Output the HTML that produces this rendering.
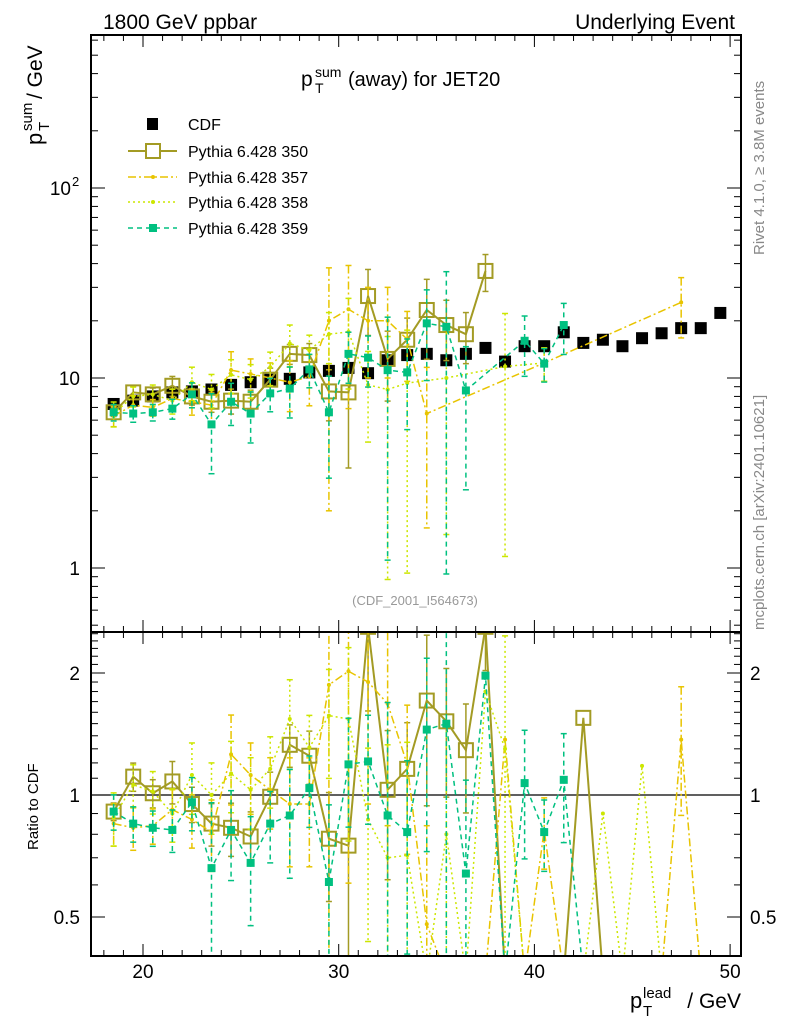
<!DOCTYPE html>
<html><head><meta charset="utf-8"><style>
body{margin:0;background:#fff;overflow:hidden;}
svg text{font-family:"Liberation Sans",Arial,sans-serif;}
</style></head><body>
<svg id="c" width="786" height="1024" xmlns="http://www.w3.org/2000/svg" style="display:block">
<defs>
<clipPath id="cm"><rect x="91" y="35" width="650" height="597"/></clipPath>
<clipPath id="cr"><rect x="91" y="632" width="650" height="324"/></clipPath>
</defs>
<rect x="0" y="0" width="786" height="1024" fill="#fff"/>
<text x="103" y="29" font-size="21">1800 GeV ppbar</text>
<text x="735" y="29" font-size="21" text-anchor="end">Underlying Event</text>
<g>
<text x="301" y="86" font-size="21">p</text>
<text x="315" y="77" font-size="14">sum</text>
<text x="315" y="93" font-size="14">T</text>
<text x="348" y="86" font-size="20">(away) for JET20</text>
</g>
<g transform="translate(42,145) rotate(-90)">
<text x="0" y="0" font-size="22">p</text>
<text x="14" y="-10" font-size="15">sum</text>
<text x="14" y="7" font-size="15">T</text>
<text x="46" y="0" font-size="21">/ GeV</text>
</g>
<text transform="translate(38,850) rotate(-90)" font-size="15">Ratio to CDF</text>
<text transform="translate(764,255) rotate(-90)" font-size="15" fill="#888">Rivet 4.1.0, ≥ 3.8M events</text>
<text transform="translate(764,630) rotate(-90)" font-size="15" fill="#888">mcplots.cern.ch [arXiv:2401.10621]</text>
<text x="415" y="605" font-size="13" fill="#999" text-anchor="middle">(CDF_2001_I564673)</text>
<g>
<text x="630" y="1008" font-size="22">p</text>
<text x="643" y="1016" font-size="15">T</text>
<text x="643" y="998" font-size="15">lead</text>
<text x="741" y="1008" font-size="21" text-anchor="end">/ GeV</text>
</g>
<g id="main" clip-path="url(#cm)"></g>
<g id="ratio" clip-path="url(#cr)"></g>
<g id="axes"></g>
<g id="legend"></g>
</svg>
<script>
const xs = [18.5,19.5,20.5,21.5,22.5,23.5,24.5,25.5,26.5,27.5,28.5,29.5,30.5,31.5,32.5,33.5,34.5,35.5,36.5,37.5,38.5,39.5,40.5,41.5,42.5,43.5,44.5,45.5,46.5,47.5,48.5,49.5];
const cdf = [7.3,7.6,8.0,8.4,8.5,8.7,9.2,9.5,9.8,9.9,10.7,10.9,11.3,10.6,12.4,13.2,13.4,12.4,13.4,14.4,12.2,14.7,14.7,17.4,15.3,15.9,14.7,16.2,17.2,18.3,18.3,22];
const p350 = [6.6,8.4,8.2,9.1,8.0,7.5,7.6,7.5,9.8,13.4,13.2,8.5,8.4,27,12.6,15.9,22.8,19,17,36.6,null,null,null,null,null,null,null,null,null,null,null,null];
const e350 = [0.05,0.08,0.08,0.12,0.1,0.12,0.15,0.15,0.15,0.12,0.15,0.3,0.6,0.38,0.4,0.3,0.45,0.35,0.3,0.22,0,0,0,0,0,0,0,0,0,0,0,0];
const p357 = [6.3,7.2,7.0,7.8,7.5,7.2,11.0,10.5,10.0,9.5,10.2,20,23,20,20,16,6.5,null,null,null,null,null,12,null,null,null,null,null,null,25,null,null];
const e357 = [0.12,0.12,0.1,0.12,0.15,0.2,0.25,0.2,0.2,0.3,0.3,0.9,0.7,0.5,0.5,0.4,0.75,0,0,0,0,0,0.2,0,0,0,0,0,0,0.35,0,0];
const p358 = [6.5,8.0,8.2,7.6,9.5,8.7,10.4,9.8,11.4,15.2,14.0,17.0,17.5,9.2,8.7,9.4,null,10,null,null,11.5,null,12,null,null,null,null,null,null,null,null,null];
const e358 = [0.15,0.12,0.12,0.15,0.2,0.2,0.2,0.2,0.2,0.25,0.2,0.3,0.5,0.5,0.9,0.9,0,0.85,0,0,0.9,0,0.2,0,0,0,0,0,0,0,0,0];
const p359 = [6.6,6.5,6.6,6.9,8.2,5.7,7.5,6.5,8.3,8.8,11.1,6.6,13.4,12.8,11.0,10.7,19.4,18.6,8.6,null,null,15.7,11.9,19.0,null,null,null,null,null,null,null,null];
const e359 = [0.1,0.1,0.1,0.12,0.15,0.45,0.25,0.3,0.2,0.3,0.2,0.55,0.3,0.3,0.9,0.5,0.5,0.95,0.7,0,0,0.35,0.2,0.3,0,0,0,0,0,0,0,0];
const r350 = [0.91,1.11,1.01,1.08,0.95,0.85,0.83,0.79,0.99,1.33,1.25,0.78,0.75,2.6,1.03,1.16,1.71,1.52,1.29,2.6,0,0,0,0,1.55,0,null,null,null,null,null,null];
const r357 = [0.85,0.83,0.84,0.92,0.87,0.81,1.26,1.12,1.03,0.95,0.95,1.87,2.02,1.9,1.68,1.19,0.48,0,0,0,1.37,0,0.82,0,0,0,0,0,0,1.37,0,0];
const r358 = [0.88,1.06,1.02,0.9,1.12,1.0,1.13,1.03,1.16,1.54,1.31,1.57,1.54,0.87,0.7,0.71,0,0.8,0,1.8,1.3,0,0,0,0,0.9,0,1.18,0,0,0,0];
const r359 = [0.91,0.85,0.83,0.82,0.96,0.66,0.82,0.68,0.85,0.89,1.04,0.61,1.19,1.21,0.89,0.81,1.45,1.5,0.64,1.97,0,1.07,0.81,1.09,0,null,null,null,null,null,null,null];
const xTicks = [20,30,40,50];
const mainTicks = [{v:100,l:"10",s:"2"},{v:10,l:"10",s:""},{v:1,l:"1",s:""}];
const ratioTicks = [2,1,0.5];

const NS="http://www.w3.org/2000/svg";
const L=91,R=741,T=35,MB=632,RB=956;
const X=v=>143+(v-20)*19.57;
const YM=v=>568-190*Math.log10(v);
const YR=v=>v<=0?975:795-122*Math.log2(v);
function mk(tag,attrs,parent){const e=document.createElementNS(NS,tag);for(const k in attrs)e.setAttribute(k,attrs[k]);parent.appendChild(e);return e;}
const gm=document.getElementById('main'),gr=document.getElementById('ratio'),ga=document.getElementById('axes'),gl=document.getElementById('legend');

const series=[
 {name:'pythia-350',vals:p350,err:e350,rat:r350,col:'#a39b24',dash:'',w:2,mk:'open',ms:14},
 {name:'pythia-357',vals:p357,err:e357,rat:r357,col:'#e8c400',dash:'8,3,2,3',w:1.5,mk:'dot',ms:4},
 {name:'pythia-358',vals:p358,err:e358,rat:r358,col:'#cce600',dash:'2,3',w:1.5,mk:'dot',ms:4},
 {name:'pythia-359',vals:p359,err:e359,rat:r359,col:'#00c080',dash:'5,4',w:1.5,mk:'fill',ms:8}
];
function drawSeries(g,s,vals,Y,ratio){
 let pts=[];
 vals.forEach((v,i)=>{ if(v!==null) pts.push([X(xs[i]),Y(v)]); });
 const pl=mk('polyline',{points:pts.map(p=>p.join(',')).join(' '),fill:'none',stroke:s.col,'stroke-width':s.w,'stroke-dasharray':s.dash},g);
 
 
 vals.forEach((v,i)=>{
  if(v===null||v<=0)return;
  const x=X(xs[i]),y=Y(v);
  const ef=s.err[i];
  if(ef>0){
   const hi=Math.max(Y(v*(1+ef)),20), lo=Math.min(Y(Math.max(v*(1-ef),0.01)),975);
   const eb=mk('line',{x1:x,x2:x,y1:hi,y2:lo,stroke:s.col,'stroke-width':1.5,'stroke-dasharray':s.dash},g);
   
   
   mk('line',{x1:x-3,x2:x+3,y1:hi,y2:hi,stroke:s.col,'stroke-width':1.5},g);
   mk('line',{x1:x-3,x2:x+3,y1:lo,y2:lo,stroke:s.col,'stroke-width':1.5},g);
  }
  let m;
  if(s.mk==='open') m=mk('rect',{x:x-s.ms/2,y:y-s.ms/2,width:s.ms,height:s.ms,fill:'none',stroke:s.col,'stroke-width':2},g);
  else if(s.mk==='fill') m=mk('rect',{x:x-s.ms/2,y:y-s.ms/2,width:s.ms,height:s.ms,fill:s.col},g);
  else m=mk('circle',{cx:x,cy:y,r:2,fill:s.col},g);
  
  
 });
}
cdf.forEach((v,i)=>{
 const r=mk('rect',{x:X(xs[i])-6,y:YM(v)-6,width:12,height:12,fill:'#000'},gm);
 
 
});
series.forEach(s=>drawSeries(gm,s,s.vals,YM,false));
const one=mk('line',{x1:L,x2:R,y1:YR(1),y2:YR(1),stroke:'#000','stroke-width':1.2},gr);


series.forEach(s=>drawSeries(gr,s,s.rat,YR,true));

const f1=mk('rect',{x:L,y:T,width:R-L,height:MB-T,fill:'none',stroke:'#000','stroke-width':2},ga);


const f2=mk('rect',{x:L,y:MB,width:R-L,height:RB-MB,fill:'none',stroke:'#000','stroke-width':2},ga);


for(let v=18;v<=50;v++){
 const x=X(v),maj=v%10===0,len=maj?12:6;
 [[MB,MB-len],[RB,RB-len],[T,T+len],[MB,MB+len]].forEach(p=>mk('line',{x1:x,x2:x,y1:p[0],y2:p[1],stroke:'#000','stroke-width':1},ga));
}
xTicks.forEach(v=>{
 const t=mk('text',{x:X(v),y:978,'font-size':19,'text-anchor':'middle'},ga);t.textContent=v;
 
 
});
for(let d=0.1;d<1000;d*=10){for(let k=1;k<10;k++){const v=d*k,y=YM(v);if(y<T||y>MB)continue;const len=k===1?14:7;
 mk('line',{x1:L,x2:L+len,y1:y,y2:y,stroke:'#000'},ga);mk('line',{x1:R,x2:R-len,y1:y,y2:y,stroke:'#000'},ga);}}
mainTicks.forEach(tk=>{
 const t=mk('text',{x:tk.s?71:80,y:YM(tk.v)+7,'font-size':19,'text-anchor':'end'},ga);t.textContent=tk.l;
 
 
 if(tk.s){const s=mk('text',{x:72,y:YM(tk.v)-2,'font-size':13},ga);s.textContent=tk.s;
  
  }
});
for(let v=0.4;v<=2.55;v+=0.1){const y=YR(v);if(y<MB||y>RB)continue;const maj=Math.abs(v-1)<1e-6||Math.abs(v-2)<1e-6||Math.abs(v-0.5)<1e-6;const len=maj?14:7;
 mk('line',{x1:L,x2:L+len,y1:y,y2:y,stroke:'#000'},ga);mk('line',{x1:R,x2:R-len,y1:y,y2:y,stroke:'#000'},ga);}
ratioTicks.forEach(v=>{
 const t=mk('text',{x:80,y:YR(v)+7,'font-size':19,'text-anchor':'end'},ga);t.textContent=v;
 
 
 const t2=mk('text',{x:750,y:YR(v)+7,'font-size':19},ga);t2.textContent=v;
 
 
});
const legs=[{lab:'CDF',y:124},{lab:'Pythia 6.428 350',y:151,s:0},{lab:'Pythia 6.428 357',y:177,s:1},{lab:'Pythia 6.428 358',y:202,s:2},{lab:'Pythia 6.428 359',y:228,s:3}];
legs.forEach(e=>{
 const g=mk('g',{},gl);
 
 
 if(e.s===undefined){mk('rect',{x:147,y:e.y-6,width:11,height:12,fill:'#000'},g);}
 else{const s=series[e.s];
  mk('line',{x1:128,x2:177,y1:e.y,y2:e.y,stroke:s.col,'stroke-width':s.w,'stroke-dasharray':s.dash},g);
  if(s.mk==='open')mk('rect',{x:146,y:e.y-7,width:14,height:14,fill:'#fff',stroke:s.col,'stroke-width':2},g);
  else if(s.mk==='fill')mk('rect',{x:149,y:e.y-4,width:8,height:8,fill:s.col},g);
  else mk('circle',{cx:153,cy:e.y,r:2,fill:s.col},g);}
 const t=mk('text',{x:188,y:e.y+6,'font-size':16},g);t.textContent=e.lab;
});
</script>
</body></html>
